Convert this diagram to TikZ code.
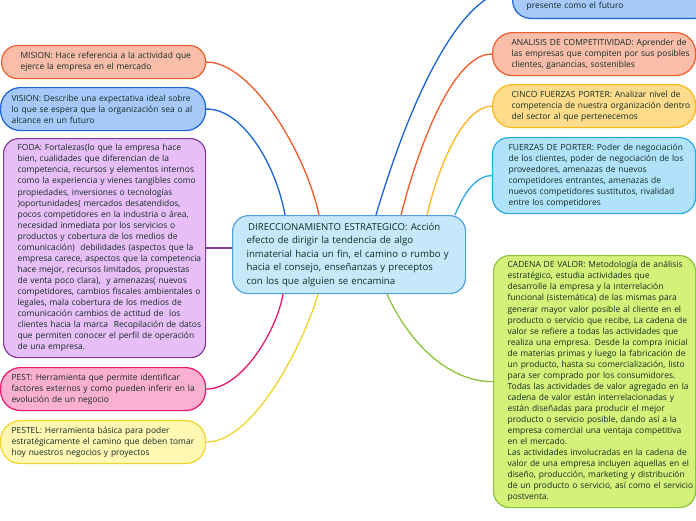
\documentclass[tikz,border=0pt]{standalone}
\usepackage{fontspec}
\setmainfont{Open Sans}
\definecolor{txt}{RGB}{18,44,34}
\definecolor{misionF}{RGB}{249,189,170}\definecolor{misionB}{RGB}{241,90,41}
\definecolor{visF}{RGB}{166,201,250}\definecolor{visB}{RGB}{26,100,215}
\definecolor{fodaF}{RGB}{232,190,248}\definecolor{fodaB}{RGB}{128,60,150}
\definecolor{pestF}{RGB}{252,176,209}\definecolor{pestB}{RGB}{236,22,110}
\definecolor{pestelF}{RGB}{255,247,178}\definecolor{pestelB}{RGB}{240,214,40}
\definecolor{cenF}{RGB}{197,233,250}\definecolor{cenB}{RGB}{80,160,220}
\definecolor{cincoF}{RGB}{255,220,140}\definecolor{cincoB}{RGB}{253,182,30}
\definecolor{fuerF}{RGB}{176,226,250}\definecolor{fuerB}{RGB}{40,170,230}
\definecolor{cadF}{RGB}{212,242,122}\definecolor{cadB}{RGB}{140,196,60}
\newcommand{\tline}[1]{\mbox{#1}}
\tikzset{
  box/.style={draw, line width=1.2pt, align=left, text=txt, inner ysep=0pt,
    anchor=north west, font=\fontsize{8.45pt}{11.05pt}\selectfont},
  link/.style={line width=1.3pt},
}
\begin{document}
\begin{tikzpicture}[x=1pt,y=-1pt]
\useasboundingbox (0,0) rectangle (696,520);
\clip (0,0) rectangle (696,520);
\fill[white] (0,0) rectangle (696,520);

% left nodes
\node[box, draw=misionB, fill=misionF, rounded corners=16pt, minimum width=204pt, minimum height=33pt, inner xsep=19pt, text width=166pt] (mision) at (1,45)
{\tline{MISION: Hace referencia a la actividad que}\\\tline{ejerce la empresa en el mercado}};

\node[box, draw=visB, fill=visF, rounded corners=20pt, minimum width=205pt, minimum height=43pt, inner xsep=11pt, text width=183pt] (vision) at (0,87)
{\tline{VISION: Describe una expectativa ideal sobre}\\\tline{lo que se espera que la organización sea o al}\\\tline{alcance en un futuro}};

\node[box, draw=fodaB, fill=fodaF, rounded corners=15pt, minimum width=202pt, minimum height=219pt, inner xsep=14pt, text width=174pt] (foda) at (3,138)
{\tline{FODA: Fortalezas(lo que la empresa hace}\\
\tline{bien, cualidades que diferencian de la}\\
\tline{competencia, recursos y elementos internos}\\
\tline{como la experiencia y vienes tangibles como}\\
\tline{propiedades, inversiones o tecnologías}\\
\tline{)oportunidades( mercados desatendidos,}\\
\tline{pocos competidores en la industria o área,}\\
\tline{necesidad inmediata por los servicios o}\\
\tline{productos y cobertura de los medios de}\\
\tline{comunicación)\ \ debilidades (aspectos que la}\\
\tline{empresa carece, aspectos que la competencia}\\
\tline{hace mejor, recursos limitados, propuestas}\\
\tline{de venta poco clara),\ \ y amenazas( nuevos}\\
\tline{competidores, cambios fiscales ambientales o}\\
\tline{legales, mala cobertura de los medios de}\\
\tline{comunicación cambios de actitud de\ \ los}\\
\tline{clientes hacia la marca\ \ Recopilación de datos}\\
\tline{que permiten conocer el perfil de operación}\\
\tline{de una empresa.}};

\node[box, draw=pestB, fill=pestF, rounded corners=20pt, minimum width=205pt, minimum height=43pt, inner xsep=11pt, text width=183pt] (pest) at (0,367)
{\tline{PEST: Herramienta que permite identificar}\\\tline{factores externos y como pueden inferir en la}\\\tline{evolución de un negocio}};

\node[box, draw=pestelB, fill=pestelF, rounded corners=20pt, minimum width=205pt, minimum height=43pt, inner xsep=11pt, text width=183pt] (pestel) at (0,420)
{\tline{PESTEL: Herramienta básica para poder}\\\tline{estratégicamente el camino que deben tomar}\\\tline{hoy nuestros negocios y proyectos}};

% center
\node[box, draw=cenB, fill=cenF, rounded corners=16pt, minimum width=233pt, minimum height=78pt, inner xsep=14pt, text width=205pt, font=\fontsize{9.6pt}{13.5pt}\selectfont] (center) at (232,215)
{\tline{\,DIRECCIONAMIENTO ESTRATEGICO: Acción}\\
\tline{efecto de dirigir la tendencia de algo}\\
\tline{inmaterial hacia un fin, el camino o rumbo y}\\
\tline{hacia el consejo, enseñanzas y preceptos}\\
\tline{con los que alguien se encamina}};

% right nodes
\node[box, draw=visB, fill=visF, rounded corners=18pt, anchor=south west, minimum width=200pt, inner xsep=14pt, text width=172pt, text height=40pt, text depth=2.5pt, inner ysep=7pt] (futuro) at (512,19)
{\tline{presente como el futuro}};

\node[box, draw=misionB, fill=misionF, rounded corners=20pt, minimum width=203pt, minimum height=43pt, inner xsep=19pt, text width=165pt] (analisis) at (492,32)
{\tline{ANALISIS DE COMPETITIVIDAD: Aprender de}\\\tline{las empresas que compiten por sus posibles}\\\tline{clientes, ganancias, sostenibles}};

\node[box, draw=cincoB, fill=cincoF, rounded corners=20pt, minimum width=203pt, minimum height=43pt, inner xsep=19pt, text width=165pt] (cinco) at (492,84)
{\tline{CINCO FUERZAS PORTER: Analizar nivel de}\\\tline{competencia de nuestra organización dentro}\\\tline{del sector al que pertenecemos}};

\node[box, draw=fuerB, fill=fuerF, rounded corners=16pt, minimum width=203pt, minimum height=76pt, inner xsep=16pt, text width=171pt] (fuerzas) at (492,137)
{\tline{FUERZAS DE PORTER: Poder de negociación}\\
\tline{de los clientes, poder de negociación de los}\\
\tline{proveedores, amenazas de nuevos}\\
\tline{competidores entrantes, amenazas de}\\
\tline{nuevos competidores sustitutos, rivalidad}\\
\tline{entre los competidores}};

\node[box, draw=cadB, fill=cadF, rounded corners=16pt, minimum width=202pt, minimum height=252pt, inner xsep=14pt, text width=174pt] (cadena) at (493,255)
{\tline{CADENA DE VALOR: Metodología de análisis}\\
\tline{estratégico, estudia actividades que}\\
\tline{desarrolle la empresa y la interrelación}\\
\tline{funcional (sistemática) de las mismas para}\\
\tline{generar mayor valor posible al cliente en el}\\
\tline{producto o servicio que recibe, La cadena de}\\
\tline{valor se refiere a todas las actividades que}\\
\tline{realiza una empresa. Desde la compra inicial}\\
\tline{de materias primas y luego la fabricación de}\\
\tline{un producto, hasta su comercialización, listo}\\
\tline{para ser comprado por los consumidores.}\\
\tline{Todas las actividades de valor agregado en la}\\
\tline{cadena de valor están interrelacionadas y}\\
\tline{están diseñadas para producir el mejor}\\
\tline{producto o servicio posible, dando así a la}\\
\tline{empresa comercial una ventaja competitiva}\\
\tline{en el mercado.}\\
\tline{Las actividades involucradas en la cadena de}\\
\tline{valor de una empresa incluyen aquellas en el}\\
\tline{diseño, producción, marketing y distribución}\\
\tline{de un producto o servicio, así como el servicio}\\
\tline{postventa.}};

% connectors
\draw[link, draw=misionB] (mision.east) .. controls (250,61) and (305,150) .. ([xshift=87pt]center.north west);
\draw[link, draw=visB] (vision.east) .. controls (240,108) and (275,160) .. ([xshift=53pt]center.north west);
\draw[link, draw=fodaB] (foda.east) -- (center.west |- foda.east);
\draw[link, draw=pestB] (pest.east) .. controls (242,389) and (277,330) .. ([xshift=51pt]center.south west);
\draw[link, draw=pestelB] (pestel.east) .. controls (255,442) and (305,340) .. ([xshift=86pt]center.south west);
\draw[link, draw=visB] ([xshift=144pt]center.north west) .. controls (410,100) and (460,-9) .. (futuro.west);
\draw[link, draw=misionB] ([xshift=169pt]center.north west) .. controls (420,140) and (455,53) .. (analisis.west);
\draw[link, draw=cincoB] ([xshift=195pt]center.north west) .. controls (440,160) and (465,106) .. (cinco.west);
\draw[link, draw=fuerB] ([xshift=223pt]center.north west) .. controls (465,190) and (478,175) .. (fuerzas.west);
\draw[link, draw=cadB] ([xshift=155pt]center.south west) .. controls (410,345) and (450,382) .. (cadena.west);
\end{tikzpicture}
\end{document}
